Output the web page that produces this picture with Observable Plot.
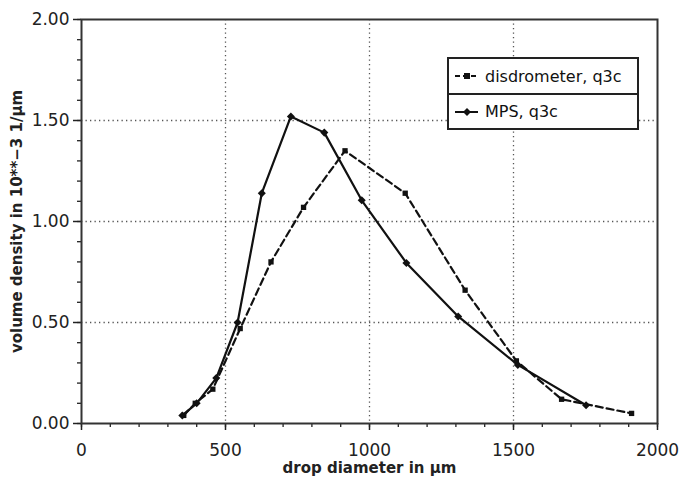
<!DOCTYPE html>
<html><head><meta charset="utf-8">
<script src="https://cdn.jsdelivr.net/npm/d3@7"></script>
<script src="https://cdn.jsdelivr.net/npm/@observablehq/plot@0.6"></script>
<style>
body{margin:0;background:#fff;}
#wrap{position:relative;width:681px;height:477px;}
g[aria-label="x-axis label"] text, g[aria-label="y-axis label"] text{font-weight:bold;font-size:15px;}
#legend{position:absolute;left:447px;top:57px;width:188px;height:69px;border:2px solid #222;background:#fff;font-family:"DejaVu Sans";font-size:16px;color:#111;}
#legend .row{height:34px;display:flex;align-items:center;}
#legend .row + .row{border-top:2px solid #222;height:33px;}
#legend svg{margin-left:5px;margin-right:6px;}
</style></head>
<body><div id="wrap"><div id="chart"></div>
<div id="legend">
<div class="row"><svg width="25" height="10"><line x1="1" y1="5" x2="24" y2="5" stroke="#111" stroke-width="2" stroke-dasharray="5,3"/><rect x="10" y="2" width="6" height="6" fill="#111"/></svg><span id="l0"></span></div>
<div class="row"><svg width="25" height="10"><line x1="1" y1="5" x2="24" y2="5" stroke="#111" stroke-width="2"/><path d="M13,1 L17,5 L13,9 L9,5Z" fill="#111"/></svg><span id="l1"></span></div>
</div></div>
<script>
const seriesNames = ["disdrometer, q3c", "MPS, q3c"];
const disdroX = [355, 395, 456, 551, 658, 771, 915, 1124, 1332, 1510, 1667, 1910];
const disdroY = [0.04, 0.10, 0.17, 0.47, 0.80, 1.07, 1.35, 1.14, 0.66, 0.31, 0.12, 0.05];
const mpsX = [350, 400, 468, 542, 626, 727, 843, 973, 1128, 1308, 1515, 1752];
const mpsY = [0.04, 0.10, 0.225, 0.50, 1.14, 1.52, 1.44, 1.105, 0.795, 0.53, 0.29, 0.09];
const xMajor = [0, 500, 1000, 1500, 2000];
const yMajor = [0, 0.5, 1.0, 1.5, 2.0];
const xMinor = d3.range(0, 2001, 100);
const yMinor = d3.range(0, 21).map(i => i / 10);

const disdro = disdroX.map((x, i) => ({x, y: disdroY[i]}));
const mps = mpsX.map((x, i) => ({x, y: mpsY[i]}));
document.getElementById("l0").textContent = seriesNames[0];
document.getElementById("l1").textContent = seriesNames[1];

const chart = Plot.plot({
  width: 681, height: 477,
  marginLeft: 81, marginRight: 24, marginTop: 19, marginBottom: 54,
  style: {fontFamily: "DejaVu Sans", fontSize: "17px", color: "#222", background: "#fff"},
  x: {domain: [0, 2000]},
  y: {domain: [0, 2]},
  marks: [
    Plot.gridX(xMajor.slice(1, -1), {stroke: "#555", strokeOpacity: 1, strokeWidth: 1.3, strokeDasharray: "1.3,3.2"}),
    Plot.gridY(yMajor.slice(1, -1), {stroke: "#555", strokeOpacity: 1, strokeWidth: 1.3, strokeDasharray: "1.3,3.2"}),
    Plot.axisX(xMinor, {tickSize: 4, tickFormat: () => "", label: null, strokeWidth: 1.3}),
    Plot.axisY(yMinor, {tickSize: 4, tickFormat: () => "", label: null, strokeWidth: 1.3}),
    Plot.axisX(xMajor, {tickSize: 7, tickPadding: 13, tickFormat: d3.format("d"), strokeWidth: 1.5, fontSize: 17,
      label: "drop diameter in μm", labelAnchor: "center", labelOffset: 49, labelArrow: "none"}),
    Plot.axisY(yMajor, {tickSize: 8, tickPadding: 4, tickFormat: d3.format(".2f"), strokeWidth: 1.5, fontSize: 17,
      label: "volume density in 10**−3 1/μm", labelAnchor: "center", labelOffset: 70, labelArrow: "none"}),
    Plot.frame({stroke: "#333", strokeWidth: 2}),
    Plot.line(disdro, {x: "x", y: "y", stroke: "#111", strokeWidth: 2.2, strokeDasharray: "7,4"}),
    Plot.line(mps, {x: "x", y: "y", stroke: "#111", strokeWidth: 2.2}),
    Plot.dot(disdro, {x: "x", y: "y", symbol: "square", fill: "#111", r: 3}),
    Plot.dot(mps, {x: "x", y: "y", symbol: "square", rotate: 45, fill: "#111", r: 3.2})
  ]
});
document.getElementById("chart").appendChild(chart);
</script></body></html>
